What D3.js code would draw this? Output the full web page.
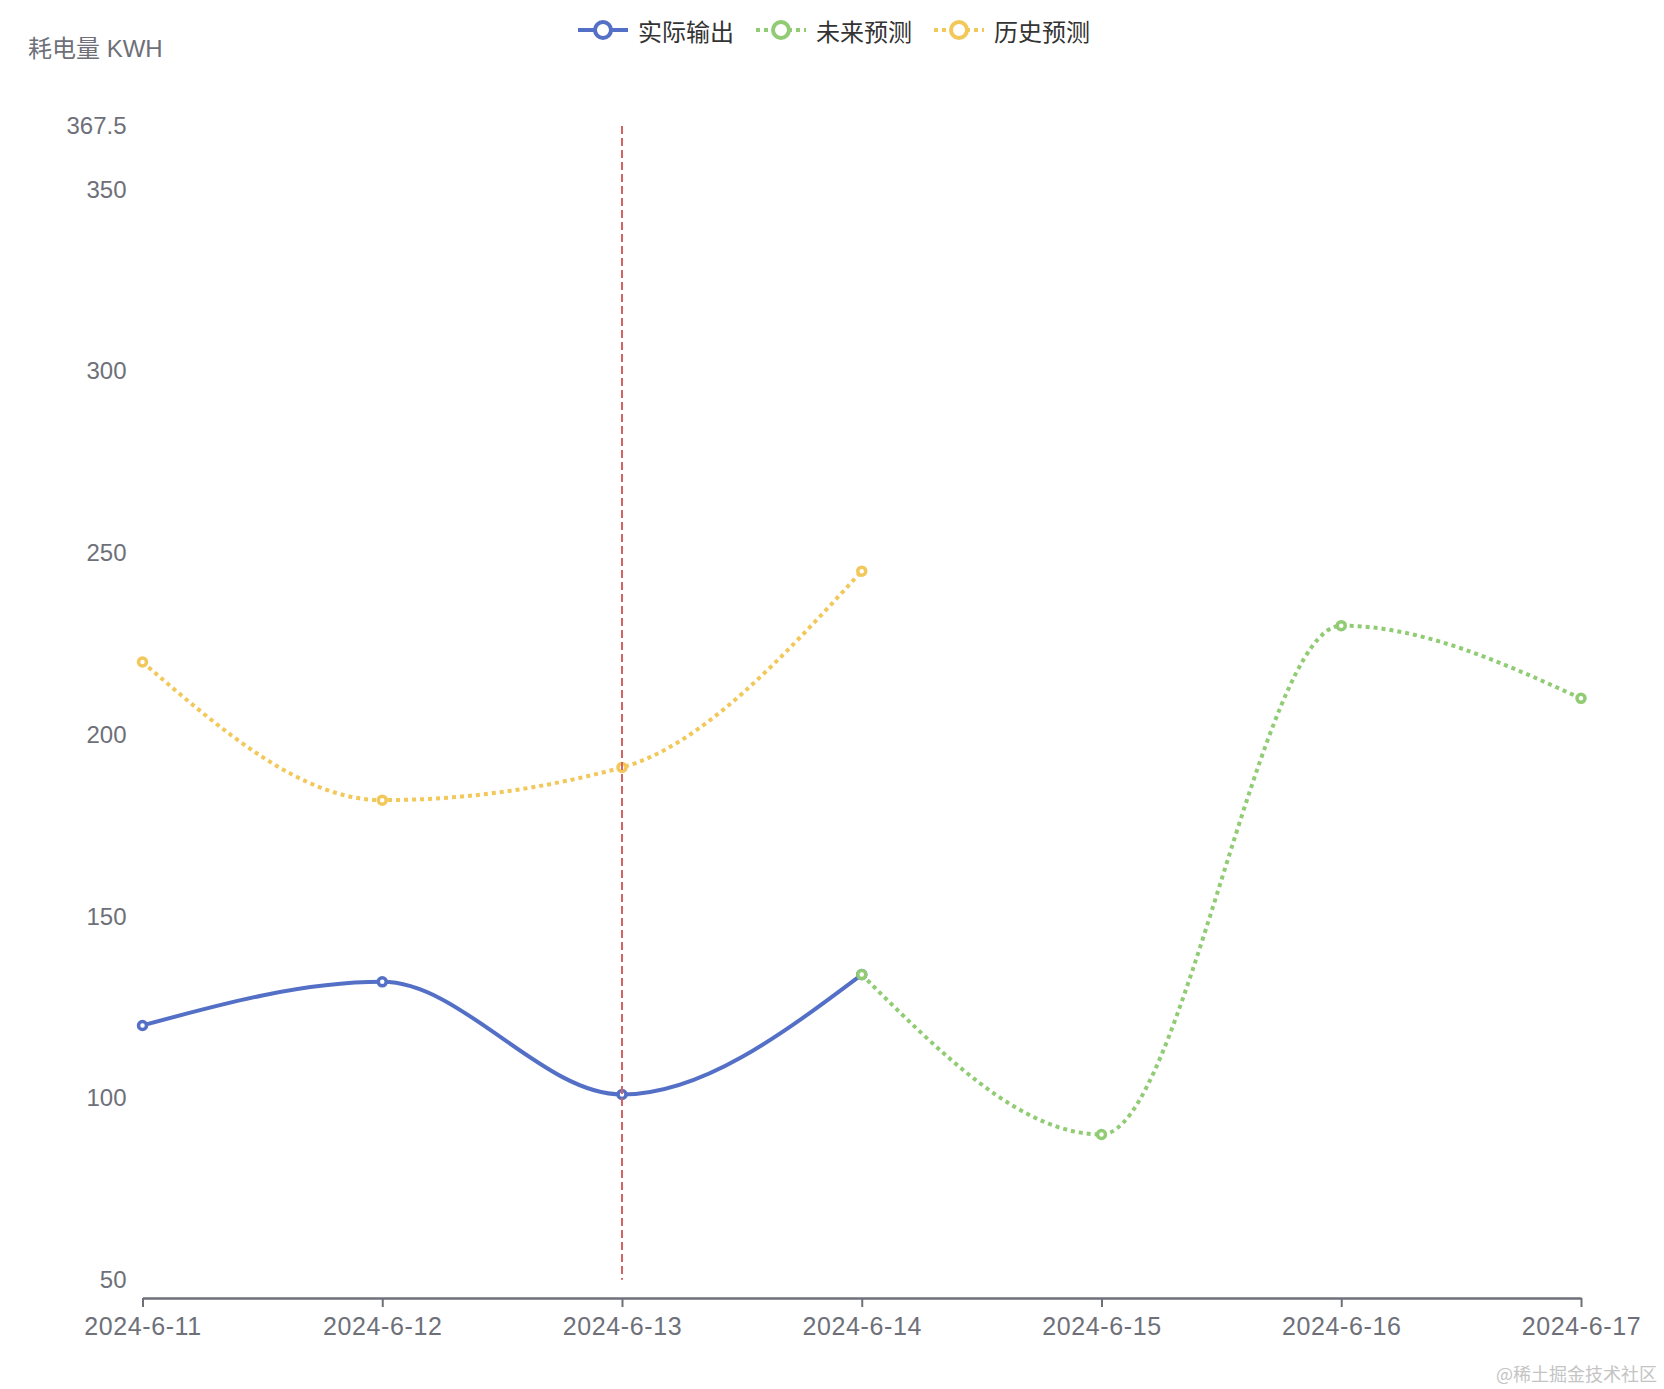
<!DOCTYPE html>
<html>
<head>
<meta charset="utf-8">
<script src="https://cdn.jsdelivr.net/npm/d3@7/dist/d3.min.js"></script>
<style>
  html, body { margin: 0; padding: 0; background: #fff; }
  svg { display: block; font-family: "Liberation Sans", Arial, "Noto Sans CJK SC", sans-serif; }
</style>
</head>
<body>
<svg id="chart" width="1664" height="1389"></svg>
<script>
// ---- data ----
const dates = ["2024-6-11", "2024-6-12", "2024-6-13", "2024-6-14", "2024-6-15", "2024-6-16", "2024-6-17"];
const actualDates = ["2024-6-11", "2024-6-12", "2024-6-13", "2024-6-14"];
const actualValues = [120, 132, 101, 134];
const futureDates = ["2024-6-14", "2024-6-15", "2024-6-16", "2024-6-17"];
const futureValues = [134, 90, 230, 210];
const historyDates = ["2024-6-11", "2024-6-12", "2024-6-13", "2024-6-14"];
const historyValues = [220, 182, 191, 245];
const yTickValues = [50, 100, 150, 200, 250, 300, 350, 367.5];
const yDomain = [45, 367.5];
const markLineDate = "2024-6-13";
const markLineRange = [50, 367.5];
const legendNames = ["实际输出", "未来预测", "历史预测"];
const yAxisName = "耗电量 KWH";
const watermark = "@稀土掘金技术社区";

// ---- style ----
const colors = ["#5470c6", "#91cc75", "#f2c85b"];
const dashes = [null, "4,4", "4,4"];
const axisColor = "#6e7079";

const svg = d3.select("#chart");
const plotLeft = 142.5, plotRight = 1581, plotTop = 126, plotBottom = 1298;

const x = d3.scalePoint().domain(dates).range([plotLeft, plotRight]).padding(0);
const y = d3.scaleLinear().domain(yDomain).range([plotBottom, plotTop]);

// y axis (labels only)
const yAxis = svg.append("g")
  .attr("transform", `translate(${plotLeft},0)`)
  .call(d3.axisLeft(y).tickValues(yTickValues).tickSize(0).tickPadding(16).tickFormat(d => String(d)));
yAxis.select(".domain").remove();
yAxis.selectAll("text").attr("fill", axisColor).style("font-size", "24px")
  .style("font-family", "\"Liberation Sans\", Arial, sans-serif");

// x axis
const xAxis = svg.append("g")
  .attr("transform", `translate(0,${plotBottom})`)
  .call(d3.axisBottom(x).tickSize(9).tickSizeOuter(0).tickPadding(10));
xAxis.select(".domain").attr("stroke", axisColor).attr("stroke-width", 2.5);
xAxis.selectAll(".tick line").attr("stroke", axisColor).attr("stroke-width", 2);
xAxis.selectAll("text").attr("fill", axisColor).style("font-size", "25px")
  .style("letter-spacing", "0.6px")
  .style("font-family", "\"Liberation Sans\", Arial, sans-serif");

// y axis name
svg.append("text")
  .attr("x", 28).attr("y", 48)
  .attr("dominant-baseline", "central")
  .attr("fill", axisColor)
  .style("font-size", "24px")
  .style("font-family", "\"Liberation Sans\", Arial, \"Noto Sans CJK SC\", sans-serif")
  .text(yAxisName);

// series
const series = [
  { d: actualDates, v: actualValues },
  { d: futureDates, v: futureValues },
  { d: historyDates, v: historyValues }
];
const line = d3.line().x(p => x(p[0])).y(p => y(p[1])).curve(d3.curveMonotoneX);

series.forEach((s, i) => {
  const pts = s.d.map((dd, k) => [dd, s.v[k]]);
  const g = svg.append("g");
  g.append("path")
    .attr("d", line(pts))
    .attr("fill", "none")
    .attr("stroke", colors[i])
    .attr("stroke-width", 4)
    .attr("stroke-dasharray", dashes[i]);
  g.selectAll("circle").data(pts).join("circle")
    .attr("cx", p => x(p[0])).attr("cy", p => y(p[1]))
    .attr("r", 4)
    .attr("fill", "#fff")
    .attr("stroke", colors[i])
    .attr("stroke-width", 3.5);
});

// mark line
svg.append("line")
  .attr("x1", x(markLineDate)).attr("x2", x(markLineDate))
  .attr("y1", y(markLineRange[1])).attr("y2", y(markLineRange[0]))
  .attr("stroke", "#d66262")
  .attr("stroke-width", 2)
  .attr("stroke-dasharray", "8,4");

// legend
const legendStart = 578, legendStep = 178, legendY = 30;
const lg = svg.append("g");
legendNames.forEach((name, i) => {
  const x0 = legendStart + i * legendStep;
  lg.append("line")
    .attr("x1", x0).attr("x2", x0 + 50)
    .attr("y1", legendY).attr("y2", legendY)
    .attr("stroke", colors[i]).attr("stroke-width", 4)
    .attr("stroke-dasharray", dashes[i]);
  lg.append("circle")
    .attr("cx", x0 + 25).attr("cy", legendY).attr("r", 8)
    .attr("fill", "#fff").attr("stroke", colors[i]).attr("stroke-width", 4);
  lg.append("text")
    .attr("x", x0 + 60).attr("y", legendY)
    .attr("dominant-baseline", "central")
    .attr("fill", "#333")
    .style("font-size", "24px")
    .style("font-family", "\"Noto Sans CJK SC\", sans-serif")
    .text(name);
});

// watermark
svg.append("text")
  .attr("x", 1657).attr("y", 1373)
  .attr("text-anchor", "end")
  .attr("dominant-baseline", "central")
  .attr("fill", "#c4c4c4")
  .style("font-size", "18px")
  .style("font-family", "\"Noto Sans CJK SC\", sans-serif")
  .text(watermark);
</script>
</body>
</html>
